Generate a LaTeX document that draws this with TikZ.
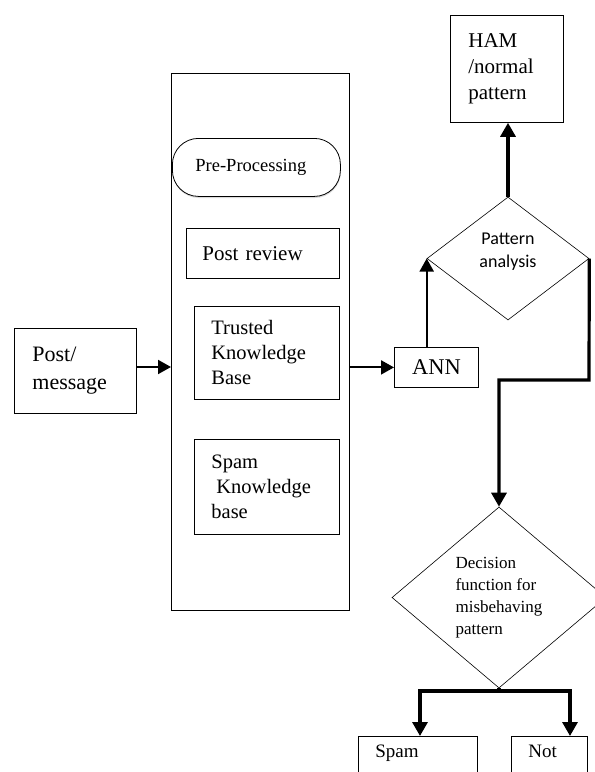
\documentclass[tikz,border=0pt]{standalone}
\usepackage{fontspec}
\setmainfont{Liberation Serif}
\newfontfamily\calib{Carlito}
\usetikzlibrary{arrows.meta,shapes.geometric,shadows}
\begin{document}
\begin{tikzpicture}[x=1pt,y=-1pt,
  box/.style={draw, line width=0.8pt, inner ysep=0pt, align=left, anchor=north west},
  dia/.style={draw, diamond, line width=0.6pt, inner sep=0pt},
  arr/.style={line width=2pt, -{Triangle[length=13pt,width=14pt]}},
  thickarr/.style={line width=3.2pt, -{Triangle[length=14pt,width=15pt]}},
  thickline/.style={line width=3.2pt}]
\useasboundingbox (0,0) rectangle (595,772);
\fill[white] (0,0) rectangle (595,772);
% left box
\node[box, minimum width=122, minimum height=85, inner xsep=18, text width=86,
  font=\fontsize{22}{28}\selectfont] (post) at (14,328) {Post/\\message};
% container
\node[box, minimum width=178, minimum height=537] (cont) at (171,73) {};
\node[draw, line width=0.8pt, rounded corners=26pt, fill=white, anchor=north west,
  minimum width=168, minimum height=58, inner xsep=23, inner ysep=0pt, text width=122, align=left,
  drop shadow={shadow xshift=0.4pt, shadow yshift=-1.6pt, fill=gray!55},
  font=\fontsize{18.5}{20}\selectfont] (pre) at (172,138) {Pre-Processing};
\node[box, minimum width=153, minimum height=50, inner xsep=16, text width=121,
  font=\fontsize{21}{24}\selectfont] (rev) at (186,228) {Post review};
\node[box, minimum width=145, minimum height=93, inner xsep=17, text width=111,
  font=\fontsize{20.5}{25}\selectfont] (trust) at (194,306) {Trusted\\Knowledge\\Base};
\node[box, minimum width=145, minimum height=95, inner xsep=17, text width=111,
  font=\fontsize{20.5}{25}\selectfont] (spamkb) at (194,439) {Spam\\\hspace*{5pt}Knowledge\\base};
% ANN
\node[draw, line width=0.8pt, anchor=north west, minimum width=84, minimum height=40,
  inner sep=0pt, font=\fontsize{22.5}{24}\selectfont] (ann) at (394,347) {ANN};
% HAM
\node[box, minimum width=113, minimum height=107, inner xsep=18, text width=77,
  font=\fontsize{21}{26}\selectfont] (ham) at (450,15) {HAM\\/normal\\pattern\\[-14pt]};
% pattern diamond
\node[dia, minimum width=162, minimum height=123, align=center,
  font=\calib\fontsize{18}{23}\selectfont] (pat) at (508,258.5) {Pattern\\analysis\\[-6pt]};
% decision diamond
\node[dia, minimum width=214, minimum height=181, align=left,
  font=\fontsize{17}{22}\selectfont] (dec) at (499,597.5) {Decision\\function for\\misbehaving\\pattern};
% outputs
\node[box, minimum width=119, inner xsep=17, text width=85, text height=21, text depth=40,
  font=\fontsize{19}{20}\selectfont] (spam) at (358,736) {Spam};
\node[box, minimum width=76, inner xsep=17, text width=42, text height=21, text depth=40,
  font=\fontsize{19}{20}\selectfont] (notb) at (511,736) {Not};
% connectors
\draw[arr] (post.east |- 0,367) -- (cont.west |- 0,367);
\draw[arr] (cont.east |- ann.west) -- (ann.west);
\draw[arr] (pat.west |- ann.north) -- (pat.west);
\draw[thickarr] (pat.north) -- (pat.north |- ham.south);
\coordinate (turn) at (589,380);
\draw[thickarr] (pat.east) -- (turn) -| (dec.north);
\coordinate (splitL) at (420,691);
\coordinate (splitR) at (570,691);
\draw[thickline] (dec.south) -- (dec.south |- splitL);
\draw[thickline, line cap=rect] (splitL) -- (splitR);
\draw[thickarr] (splitL) -- (splitL |- spam.north);
\draw[thickarr] (splitR) -- (splitR |- notb.north);
\end{tikzpicture}
\end{document}
